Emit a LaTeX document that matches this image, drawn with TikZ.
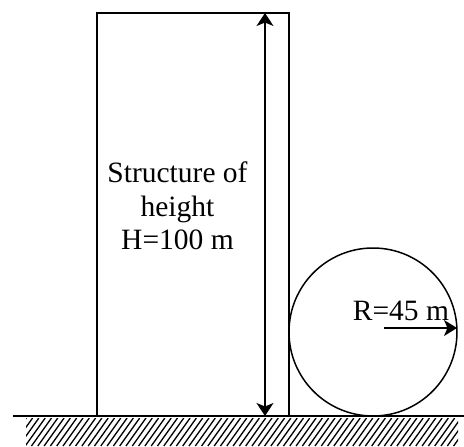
\documentclass[tikz,border=0pt]{standalone}
\usepackage{fontspec}
\setmainfont{Liberation Serif}
\usepackage{tikz}
\usetikzlibrary{arrows.meta, positioning, calc}

\begin{document}
\begin{tikzpicture}[
        x=1pt, y=-1pt,
        body/.style={rectangle, draw=black, line width=1.5pt, minimum width=192pt, minimum height=403pt, inner sep=0pt},
        tank/.style={circle, draw=black, line width=1.5pt, minimum size=168pt, inner sep=0pt},
        label/.style={font=\fontsize{29.5}{33.5}\selectfont, align=center, inner sep=0pt},
        arrow/.style={{Stealth[length=13pt, width=17pt, inset=3.5pt]}-{Stealth[length=13pt, width=17pt, inset=3.5pt]}, line width=1.5pt},
        ray/.style={-{Stealth[length=13pt, width=16pt, inset=3.5pt]}, line width=1.5pt},
        hatch/.style={line width=1.3pt}
    ]
    \useasboundingbox (0,0) rectangle (464,447);

    % Nodes
    \node[body] (structure) at (193,214.5) {};
    \node[tank] (sphere) at (373,332) {};
    \node[label] (height) at (177.5,206) {Structure of\\height\\H=100 m};
    \node[label, anchor=base] (radius) at (401,320) {R=45 m};

    % Coordinates
    \coordinate (ground west) at (13,416);
    \coordinate (ground east) at (464,416);
    \coordinate (top) at (265,13);
    \coordinate (bottom) at (265,416);
    \coordinate (centre) at (384,328);
    \coordinate (rim) at (457,328);

    % Ground
    \draw[line width=2pt] (ground west) -- (ground east);
    \begin{scope}
        \clip (26,418) rectangle (458,446);
        \foreach \x in {0,6.3,...,480}
            \draw[hatch] (\x,446) -- ++(20,-28);
    \end{scope}

    % Arrows
    \draw[arrow] (bottom) -- (top);
    \draw[ray] (centre) -- (rim);

\end{tikzpicture}
\end{document}
